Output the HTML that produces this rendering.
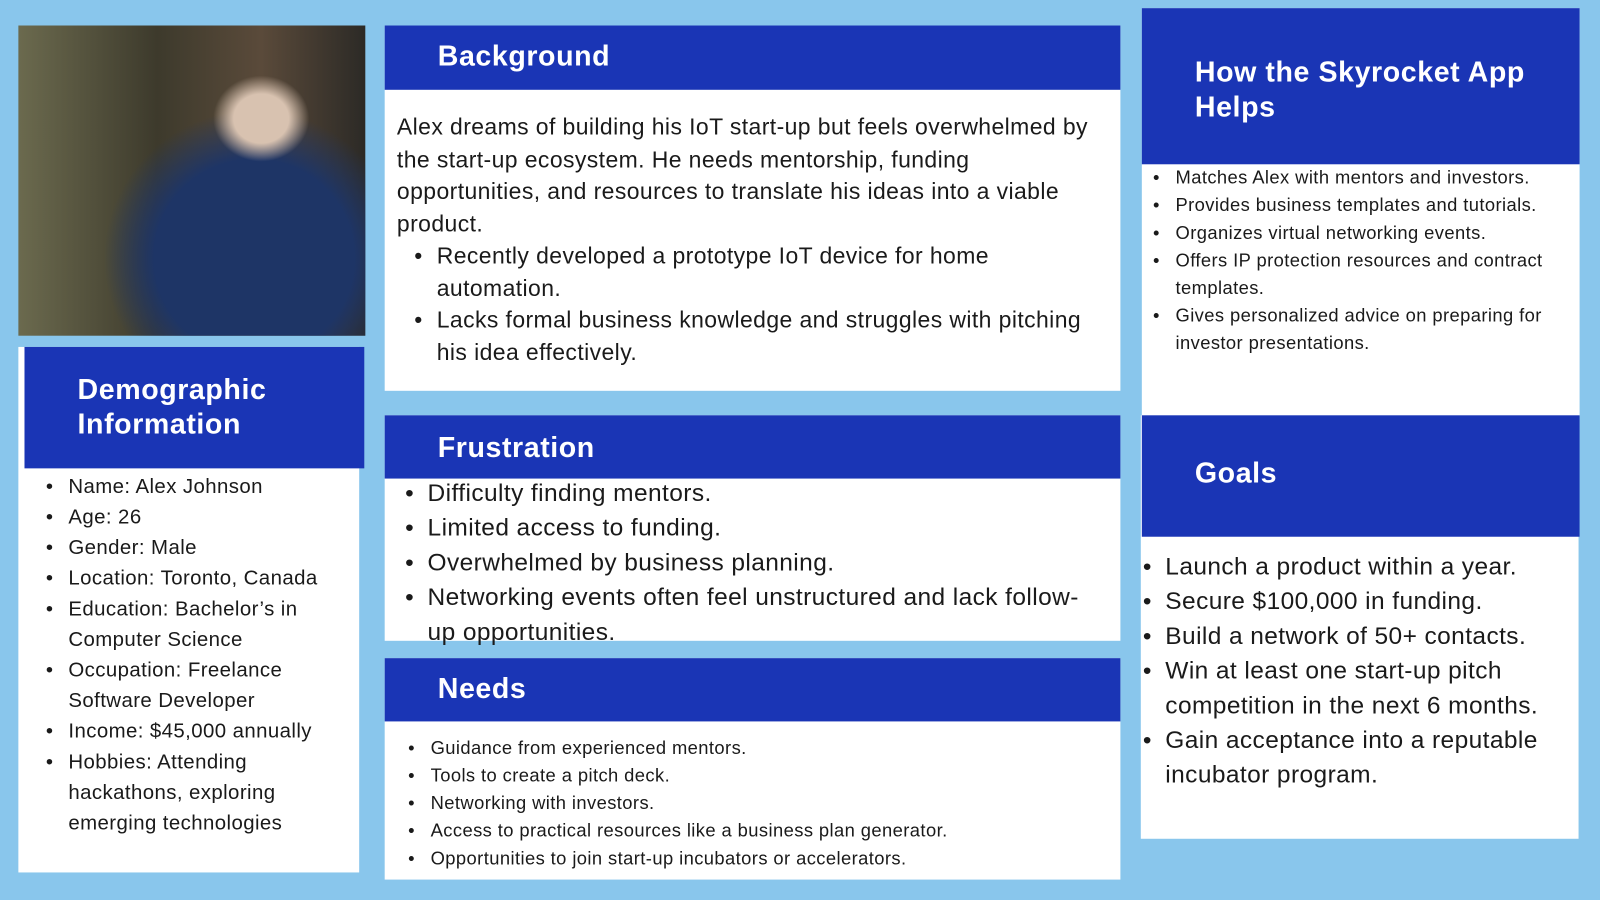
<!DOCTYPE html>
<html><head><meta charset="utf-8"><style>
*{margin:0;padding:0;box-sizing:border-box}
body{width:1600px;height:900px;background:#89c6ec;position:relative;overflow:hidden;font-family:"Liberation Sans","DejaVu Sans",sans-serif;color:#1a1a1a}
#wrap{position:absolute;left:0;top:0;width:1568px;height:882px;transform:scale(1.0204);transform-origin:0 0;letter-spacing:0.025em}
.box{position:absolute;background:#fff}
.hd{position:absolute;background:#1a35b5;color:#fff;font-weight:bold;letter-spacing:0.02em}
ul{list-style:none}
li{position:relative;padding-left:0}
li:before{content:"•";position:absolute;left:-22px}
.nw{white-space:nowrap}
</style></head><body><div id="wrap">
<div class="box" style="left:18px;top:25px;width:340px;height:304px;background:radial-gradient(ellipse at 70% 30%,#d8c2b0 0 8%,transparent 14%),radial-gradient(ellipse at 68% 75%,#1e3566 0 30%,transparent 45%),linear-gradient(90deg,#6b6a4e,#3d3a2c 40%,#5a4a3a 70%,#2c2a26)"></div>

<div class="box" style="left:18px;top:340px;width:334px;height:515px"></div>
<div class="hd" style="left:24px;top:340px;width:333px;height:119px;padding:25px 0 0 52px;font-size:28px;line-height:34px">Demographic<br>Information</div>
<ul style="position:absolute;left:67px;top:462px;width:280px;font-size:20px;line-height:30px">
<li>Name: Alex Johnson</li><li>Age: 26</li><li>Gender: Male</li><li>Location: Toronto, Canada</li><li>Education: Bachelor’s in Computer Science</li><li>Occupation: Freelance Software Developer</li><li>Income: $45,000 annually</li><li>Hobbies: Attending hackathons, exploring emerging technologies</li></ul>

<div class="box" style="left:377px;top:25px;width:721px;height:358px"></div>
<div class="hd" style="left:377px;top:25px;width:721px;height:63px;padding:14px 0 0 52px;font-size:28px">Background</div>
<div class="nw" style="position:absolute;left:389px;top:109px;width:700px;font-size:22.5px;line-height:31.5px">Alex dreams of building his IoT start-up but feels overwhelmed by<br>the start-up ecosystem. He needs mentorship, funding<br>opportunities, and resources to translate his ideas into a viable<br>product.
<ul style="padding-left:39px"><li>Recently developed a prototype IoT device for home<br>automation.</li><li>Lacks formal business knowledge and struggles with pitching<br>his idea effectively.</li></ul></div>

<div class="box" style="left:377px;top:407px;width:721px;height:221px"></div>
<div class="hd" style="left:377px;top:407px;width:721px;height:62px;padding:16px 0 0 52px;font-size:28px">Frustration</div>
<ul class="nw" style="position:absolute;left:419px;top:467px;width:670px;font-size:24px;line-height:34px">
<li>Difficulty finding mentors.</li><li>Limited access to funding.</li><li>Overwhelmed by business planning.</li><li>Networking events often feel unstructured and lack follow-<br>up opportunities.</li></ul>

<div class="box" style="left:377px;top:645px;width:721px;height:217px"></div>
<div class="hd" style="left:377px;top:645px;width:721px;height:62px;padding:14px 0 0 52px;font-size:28px">Needs</div>
<ul style="position:absolute;left:422px;top:720px;width:660px;font-size:18px;line-height:27px">
<li>Guidance from experienced mentors.</li><li>Tools to create a pitch deck.</li><li>Networking with investors.</li><li>Access to practical resources like a business plan generator.</li><li>Opportunities to join start-up incubators or accelerators.</li></ul>

<div class="box" style="left:1119px;top:8px;width:429px;height:400px"></div>
<div class="hd" style="left:1119px;top:8px;width:429px;height:153px;padding:46px 0 0 52px;font-size:28px;line-height:34px">How the Skyrocket App Helps</div>
<ul style="position:absolute;left:1152px;top:161px;width:390px;font-size:18px;line-height:27px">
<li>Matches Alex with mentors and investors.</li><li>Provides business templates and tutorials.</li><li>Organizes virtual networking events.</li><li>Offers IP protection resources and contract templates.</li><li>Gives personalized advice on preparing for investor presentations.</li></ul>

<div class="box" style="left:1118px;top:407px;width:429px;height:415px"></div>
<div class="hd" style="left:1119px;top:407px;width:429px;height:119px;padding:41px 0 0 52px;font-size:28px">Goals</div>
<ul style="position:absolute;left:1142px;top:539px;width:400px;font-size:24px;line-height:34px">
<li>Launch a product within a year.</li><li>Secure $100,000 in funding.</li><li>Build a network of 50+ contacts.</li><li>Win at least one start-up pitch competition in the next 6 months.</li><li>Gain acceptance into a reputable incubator program.</li></ul>
</div></body></html>
